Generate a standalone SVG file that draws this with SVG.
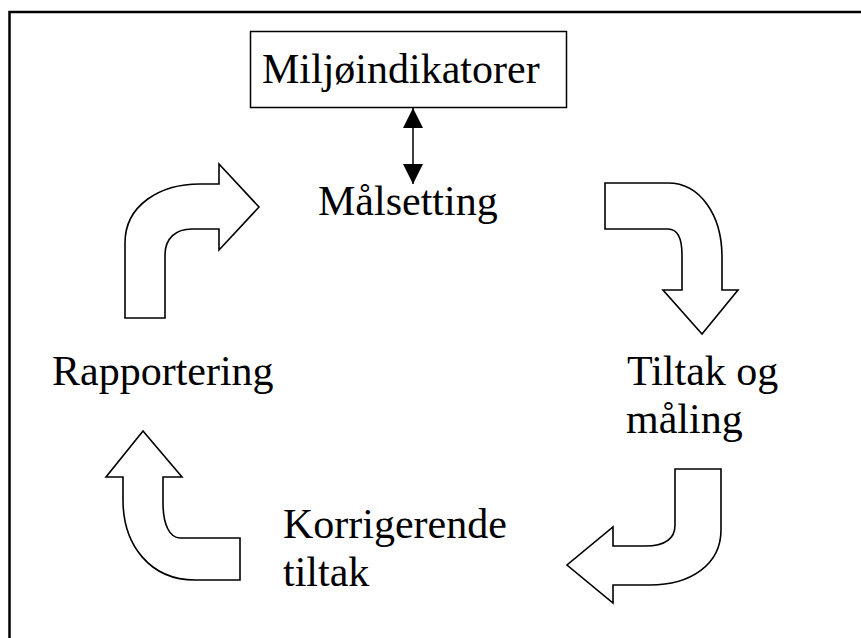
<svg xmlns="http://www.w3.org/2000/svg" width="861" height="638" viewBox="0 0 861 638">
<style>
.t{font-family:"Liberation Serif","Times New Roman",serif;font-size:42px;fill:#000}
.ar{fill:#fff;stroke:#000;stroke-width:1.6;stroke-linejoin:miter}
</style>
<rect width="861" height="638" fill="#fff"/>
<path d="M9.5,638 V12 H861" fill="none" stroke="#000" stroke-width="2.5"/>
<g id="miljoindikatorer">
<rect x="250.5" y="31.5" width="316" height="76" fill="#fff" stroke="#000" stroke-width="1.5"/>
<text class="t" x="262" y="83">Miljøindikatorer</text>
</g>
<g id="connectors">
<line x1="413" y1="108" x2="413" y2="184" stroke="#000" stroke-width="1.5"/>
<path d="M413,108 L403,128 L423,128 Z" fill="#000"/>
<path d="M413,184 L403,164 L423,164 Z" fill="#000"/>
</g>
<g id="malsetting">
<text class="t" x="318" y="215">Målsetting</text>
</g>
<g id="tiltak-og-maling">
<text class="t" x="627" y="385">Tiltak og</text>
<text class="t" x="626" y="433">måling</text>
</g>
<g id="korrigerende-tiltak">
<text class="t" x="283" y="538">Korrigerende</text>
<text class="t" x="283" y="586">tiltak</text>
</g>
<g id="rapportering">
<text class="t" x="52" y="385">Rapportering</text>
</g>
<g id="arrow-top-left">
<path class="ar" d="M125,318 L125,243 C125,205 160,184 200,184 L219,184 L219,164 L259,207 L219,250 L219,229 L192,229 C176,229 165,238 165,255 L165,318 Z"/>
</g>
<g id="arrow-top-right">
<path class="ar" d="M605,183 L668,183 C700,183 722,215 722,257 L722,290 L738,290 L702,334 L663,290 L682,290 L682,255 C682,240 678,229 668,229 L605,229 Z"/>
</g>
<g id="arrow-bottom-right">
<path class="ar" d="M675,469 L721,469 L721,530 C721,565 690,585 650,585 L613,585 L613,603 L567,565 L613,527 L613,546 L645,546 C664,546 675,540 675,525 Z"/>
</g>
<g id="arrow-bottom-left">
<path class="ar" d="M240,580 L195,580 C150,580 123,545 123,500 L123,477 L106,477 L143,431 L182,477 L163,477 L163,503 C163,525 170,538 180,538 L240,538 Z"/>
</g>
</svg>
